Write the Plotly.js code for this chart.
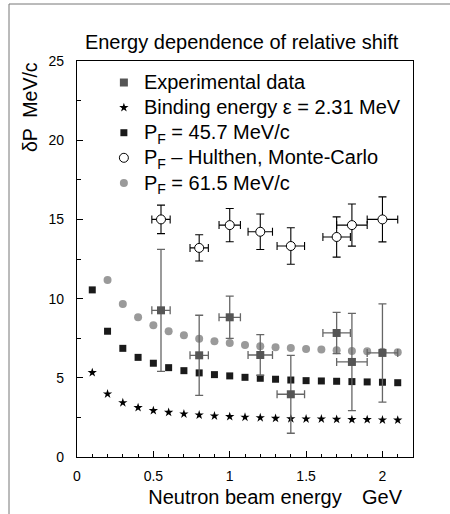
<!DOCTYPE html>
<html>
<head>
<meta charset="utf-8">
<script src="https://cdn.plot.ly/plotly-3.0.1.min.js"></script>
<style>html,body{margin:0;padding:0;background:#fff;}#chart{width:450px;height:514px;}</style>
</head>
<body>
<div id="chart"></div>
<script>
// Model curves (x = neutron beam energy, GeV)
const modelEnergy = [0.1,0.2,0.3,0.4,0.5,0.6,0.7,0.8,0.9,1.0,1.1,1.2,1.3,1.4,1.5,1.6,1.7,1.8,1.9,2.0,2.1];
const bindingShift = [5.33,3.98,3.43,3.12,2.93,2.82,2.72,2.65,2.59,2.55,2.51,2.48,2.44,2.42,2.40,2.40,2.38,2.36,2.36,2.34,2.33];
const pf457Shift = [10.55,7.94,6.86,6.29,5.92,5.64,5.45,5.31,5.20,5.12,5.03,4.97,4.91,4.86,4.82,4.80,4.78,4.76,4.74,4.72,4.69];
const pf615Energy = [0.2,0.3,0.4,0.5,0.6,0.7,0.8,0.9,1.0,1.1,1.2,1.3,1.4,1.5,1.6,1.7,1.8,1.9,2.0,2.1];
const pf615Shift = [11.18,9.66,8.82,8.32,7.94,7.68,7.47,7.31,7.20,7.07,6.99,6.93,6.88,6.82,6.78,6.74,6.69,6.67,6.65,6.62];

// Experimental data
const expEnergy = [0.55,0.80,1.00,1.20,1.40,1.70,1.80,2.00];
const expEnergyErr = [0.06,0.06,0.07,0.08,0.09,0.09,0.10,0.10];
const expShift = [9.26,6.42,8.82,6.44,3.96,7.83,6.00,6.57];
const expShiftErr = [3.85,2.53,1.33,1.28,2.46,1.30,3.07,3.10];

// Hulthen Monte-Carlo
const mcEnergy = [0.55,0.80,1.00,1.20,1.40,1.70,1.80,2.00];
const mcEnergyErr = [0.06,0.06,0.07,0.08,0.09,0.09,0.10,0.10];
const mcShift = [15.0,13.2,14.64,14.22,13.32,13.89,14.64,15.0];
const mcShiftErr = [0.9,0.83,1.05,1.12,1.15,1.27,1.33,1.42];

// Tick labels
const xTickVals = [0, 0.5, 1, 1.5, 2];
const xTickText = ['0', '0.5', '1', '1.5', '2'];
const yTickVals = [0, 5, 10, 15, 20, 25];

const FONT = 'Liberation Sans, Arial, Helvetica, sans-serif';
const big = s => '<span style="font-size:20px">' + s + '</span>';

const traces = [
  {
    x: pf615Energy, y: pf615Shift, type: 'scatter', mode: 'markers',
    name: big('P<sub>F</sub> = 61.5 MeV/c'), legendrank: 5,
    marker: {symbol: 'circle', size: 8, color: '#9a9a9a'}
  },
  {
    x: modelEnergy, y: pf457Shift, type: 'scatter', mode: 'markers',
    name: big('P<sub>F</sub> = 45.7 MeV/c'), legendrank: 3,
    marker: {symbol: 'square', size: 7, color: '#1a1a1a'}
  },
  {
    x: modelEnergy, y: bindingShift, type: 'scatter', mode: 'markers',
    name: big('Binding energy ε = 2.31 MeV'), legendrank: 2,
    marker: {symbol: 'star', size: 7, color: '#000'}
  },
  {
    x: expEnergy, y: expShift, type: 'scatter', mode: 'markers',
    name: big('Experimental data'), legendrank: 1,
    marker: {symbol: 'square', size: 8, color: '#555555'},
    error_x: {type: 'data', array: expEnergyErr, color: '#666', thickness: 1.3, width: 4},
    error_y: {type: 'data', array: expShiftErr, color: '#666', thickness: 1.3, width: 4}
  },
  {
    x: mcEnergy, y: mcShift, type: 'scatter', mode: 'markers',
    name: big('P<sub>F</sub> – Hulthen, Monte-Carlo'), legendrank: 4,
    marker: {symbol: 'circle', size: 9, color: '#fff', line: {color: '#000', width: 1}},
    error_x: {type: 'data', array: mcEnergyErr, color: '#000', thickness: 1.1, width: 4},
    error_y: {type: 'data', array: mcShiftErr, color: '#000', thickness: 1.1, width: 4}
  }
];

const layout = {
  width: 450, height: 514,
  margin: {l: 77, r: 37, t: 61, b: 57},
  paper_bgcolor: '#fff', plot_bgcolor: '#fff',
  font: {family: FONT, color: '#000', size: 14},
  showlegend: true,
  title: {
    text: 'Energy dependence of relative shift',
    font: {family: FONT, size: 20, color: '#000'},
    xref: 'container', x: 0.537, xanchor: 'center',
    yref: 'container', y: 1 - 42/514, yanchor: 'middle'
  },
  legend: {
    x: 0.08, y: 0.99, xanchor: 'left', yanchor: 'top',
    bgcolor: 'rgba(0,0,0,0)', borderwidth: 0,
    font: {family: FONT, size: 17, color: '#000'},
    itemwidth: 30, tracegroupgap: 0
  },
  xaxis: {
    range: [0, 2.2], tickmode: 'array', tickvals: xTickVals, ticktext: xTickText,
    ticks: 'inside', ticklen: 6, tickwidth: 1, tickcolor: '#000',
    minor: {dtick: 0.1, ticks: 'inside', ticklen: 3, tickcolor: '#000', showgrid: false},
    showline: true, linecolor: '#000', linewidth: 1.2, mirror: true,
    showgrid: false, zeroline: false, ticklabelstandoff: 6,
    tickfont: {family: FONT, size: 14, color: '#000'},
    title: {text: 'Neutron beam energy', font: {family: FONT, size: 20, color: '#000'}, standoff: 7},
    automargin: false
  },
  yaxis: {
    range: [0, 25], tickmode: 'array', tickvals: yTickVals,
    ticks: 'inside', ticklen: 6, tickwidth: 1, tickcolor: '#000',
    minor: {dtick: 2.5, ticks: 'inside', ticklen: 4, tickcolor: '#000', showgrid: false},
    showline: true, linecolor: '#000', linewidth: 1.2, mirror: true,
    showgrid: false, zeroline: false, ticklabelstandoff: 9,
    tickfont: {family: FONT, size: 14, color: '#000'},
    automargin: false
  },
  annotations: [
    {
      text: 'δP  MeV/c', textangle: -90, showarrow: false,
      xref: 'paper', yref: 'paper', x: (30 - 77) / 336, y: (457 - 107) / 396,
      xanchor: 'center', yanchor: 'middle',
      font: {family: FONT, size: 19.5, color: '#000'}
    },
    {
      text: 'GeV', showarrow: false, borderpad: 0,
      xref: 'x', yref: 'paper', x: 2.0, y: (457 - 497) / 396,
      xanchor: 'center', yanchor: 'middle',
      font: {family: FONT, size: 20, color: '#000'}
    }
  ],
  shapes: [
    {
      type: 'rect', xref: 'paper', yref: 'paper',
      x0: (9 - 77) / 336, x1: 1.3, y0: -0.3, y1: (457 - 4) / 396,
      line: {color: '#777', width: 1}, fillcolor: 'rgba(0,0,0,0)', layer: 'below'
    }
  ]
};

Plotly.newPlot('chart', traces, layout, {staticPlot: true, displayModeBar: false});
</script>
</body>
</html>
